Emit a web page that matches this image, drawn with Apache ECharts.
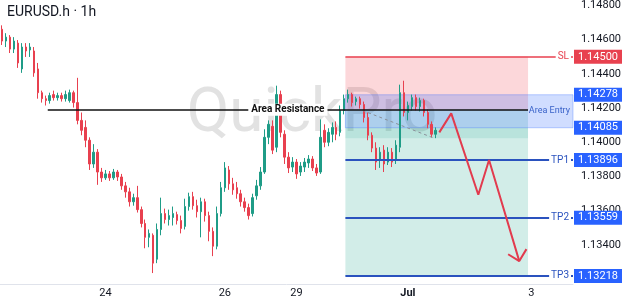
<!DOCTYPE html>
<html>
<head>
<meta charset="utf-8">
<title>EURUSD.h 1h</title>
<script src="https://cdn.jsdelivr.net/npm/echarts@6/dist/echarts.min.js"></script>
<style>
  html, body { margin: 0; padding: 0; background: #fff; }
  #chart { width: 624px; height: 305px; }
</style>
</head>
<body>
<div id="chart"></div>
<script>
// hourly candles
var opens = [
  1.14661, 1.14592, 1.14615, 1.14545, 1.14580, 1.14429, 1.14557, 1.14540, 1.14534, 1.14429,
  1.14290, 1.14255, 1.14244, 1.14279, 1.14261, 1.14273, 1.14255, 1.14244, 1.14290, 1.14232,
  1.14128, 1.14087, 1.14012, 1.13873, 1.13942, 1.13826, 1.13792, 1.13815, 1.13792, 1.13826,
  1.13797, 1.13745, 1.13710, 1.13652, 1.13676, 1.13606, 1.13525, 1.13444, 1.13456, 1.13316,
  1.13490, 1.13583, 1.13548, 1.13560, 1.13577, 1.13542, 1.13508, 1.13624, 1.13682, 1.13629,
  1.13594, 1.13652, 1.13571, 1.13479, 1.13392, 1.13583, 1.13734, 1.13838, 1.13757, 1.13734,
  1.13699, 1.13652, 1.13618, 1.13583, 1.13687, 1.13745, 1.13826, 1.14029, 1.14093, 1.13971,
  1.14279, 1.14047, 1.13913, 1.13855, 1.13884, 1.13826, 1.13855, 1.13879, 1.13902, 1.13850,
  1.13826, 1.14070, 1.14000, 1.14047, 1.14087, 1.14058, 1.14186, 1.14255, 1.14279, 1.14238,
  1.14255, 1.14221, 1.14145, 1.14041, 1.13966, 1.13896, 1.13954, 1.13884, 1.13942, 1.13896,
  1.13971, 1.14290, 1.14174, 1.14209, 1.14261, 1.14209, 1.14244, 1.14174, 1.14105, 1.14047
];
var closes = [
  1.14592, 1.14615, 1.14545, 1.14592, 1.14464, 1.14557, 1.14534, 1.14557, 1.14406, 1.14290,
  1.14255, 1.14244, 1.14273, 1.14261, 1.14273, 1.14255, 1.14279, 1.14290, 1.14232, 1.14128,
  1.14070, 1.14012, 1.13873, 1.13942, 1.13826, 1.13792, 1.13815, 1.13792, 1.13826, 1.13797,
  1.13745, 1.13710, 1.13652, 1.13676, 1.13606, 1.13525, 1.13444, 1.13467, 1.13293, 1.13490,
  1.13583, 1.13548, 1.13571, 1.13583, 1.13542, 1.13496, 1.13624, 1.13682, 1.13629, 1.13594,
  1.13652, 1.13571, 1.13479, 1.13392, 1.13583, 1.13734, 1.13850, 1.13757, 1.13722, 1.13699,
  1.13652, 1.13618, 1.13571, 1.13676, 1.13745, 1.13826, 1.14029, 1.14105, 1.13954, 1.14279,
  1.14058, 1.13913, 1.13850, 1.13884, 1.13815, 1.13861, 1.13884, 1.13902, 1.13850, 1.13820,
  1.14029, 1.14000, 1.14058, 1.14087, 1.14047, 1.14186, 1.14255, 1.14279, 1.14232, 1.14255,
  1.14221, 1.14145, 1.14041, 1.13966, 1.13884, 1.13942, 1.13873, 1.13942, 1.13884, 1.13983,
  1.14290, 1.14174, 1.14215, 1.14261, 1.14209, 1.14244, 1.14174, 1.14105, 1.14047, 1.14070
];
var lows = [
  1.14569, 1.14557, 1.14522, 1.14522, 1.14435, 1.14406, 1.14499, 1.14499, 1.14383, 1.14255,
  1.14232, 1.14215, 1.14226, 1.14244, 1.14244, 1.14238, 1.14238, 1.14232, 1.14203, 1.14105,
  1.14041, 1.13971, 1.13838, 1.13850, 1.13751, 1.13768, 1.13780, 1.13774, 1.13780, 1.13774,
  1.13722, 1.13676, 1.13624, 1.13629, 1.13589, 1.13502, 1.13380, 1.13386, 1.13235, 1.13293,
  1.13456, 1.13525, 1.13513, 1.13513, 1.13519, 1.13467, 1.13490, 1.13600, 1.13606, 1.13560,
  1.13444, 1.13536, 1.13421, 1.13334, 1.13374, 1.13566, 1.13710, 1.13722, 1.13693, 1.13670,
  1.13624, 1.13594, 1.13548, 1.13566, 1.13664, 1.13722, 1.13815, 1.13989, 1.13931, 1.13942,
  1.14029, 1.13873, 1.13820, 1.13826, 1.13786, 1.13803, 1.13826, 1.13850, 1.13832, 1.13803,
  1.13815, 1.13971, 1.13977, 1.14000, 1.14012, 1.14035, 1.14163, 1.14232, 1.14209, 1.14215,
  1.14197, 1.14116, 1.14012, 1.13942, 1.13838, 1.13850, 1.13826, 1.13867, 1.13855, 1.13873,
  1.13942, 1.14151, 1.14128, 1.14186, 1.14186, 1.14180, 1.14151, 1.14082, 1.14029, 1.14024
];
var highs = [
  1.14684, 1.14638, 1.14627, 1.14615, 1.14598, 1.14580, 1.14580, 1.14580, 1.14557, 1.14464,
  1.14302, 1.14273, 1.14290, 1.14302, 1.14290, 1.14290, 1.14302, 1.14308, 1.14302, 1.14377,
  1.14174, 1.14128, 1.14029, 1.13989, 1.13960, 1.13850, 1.13838, 1.13832, 1.13844, 1.13838,
  1.13815, 1.13768, 1.13734, 1.13699, 1.13745, 1.13624, 1.13548, 1.13490, 1.13467, 1.13525,
  1.13676, 1.13612, 1.13606, 1.13624, 1.13594, 1.13571, 1.13670, 1.13705, 1.13710, 1.13664,
  1.13676, 1.13670, 1.13594, 1.13502, 1.13624, 1.13768, 1.13884, 1.13861, 1.13792, 1.13768,
  1.13722, 1.13676, 1.13641, 1.13699, 1.13780, 1.13855, 1.14076, 1.14128, 1.14128, 1.14331,
  1.14302, 1.14070, 1.13942, 1.13913, 1.13902, 1.13884, 1.13908, 1.13925, 1.13919, 1.13873,
  1.14134, 1.14105, 1.14082, 1.14116, 1.14122, 1.14215, 1.14279, 1.14308, 1.14290, 1.14267,
  1.14267, 1.14238, 1.14174, 1.14058, 1.14000, 1.13971, 1.13983, 1.13971, 1.13966, 1.14012,
  1.14337, 1.14360, 1.14238, 1.14279, 1.14279, 1.14261, 1.14255, 1.14192, 1.14122, 1.14087
];

// time slots (candles + projected part) and day labels
var slotCount = 144;
var dayIndex = [26, 56, 74, 102, 133];
var dayText = ['24', '26', '29', 'Jul', '3'];
var priceTicks = [1.132, 1.134, 1.136, 1.138, 1.140, 1.142, 1.144, 1.146, 1.148];

// trade setup
var levelName = ['SL', 'TP1', 'TP2', 'TP3'];
var levelPrice = [1.14500, 1.13896, 1.13559, 1.13218];
var entryPrice = [1.14278, 1.14085];
var resistance = 1.14190;
var zoneFrom = 86.3, zoneTo = 132.2, resFrom = 11.5;

// projected path, arrow head, dashed trend line (slot, price)
var pathX = [109.9, 112.9, 119.7, 122.4, 130.0];
var pathY = [1.14058, 1.14169, 1.13693, 1.13896, 1.13305];
var headX = [127.2, 130.0, 131.8];
var headY = [1.13345, 1.13305, 1.13375];
var trendX = [90.6, 108.6];
var trendY = [1.14186, 1.14024];

var UP = '#1f9c87', DOWN = '#e8404f';
var SL_RED = '#e8414f', TP_BLUE = '#2a52be', TAG_BLUE = '#2962ff';
var lastSlot = slotCount - 0.5;

var cats = [];
for (var i = 0; i < slotCount; i++) cats.push(String(i));
var candles = opens.map(function (o, i) { return [o, closes[i], lows[i], highs[i]]; });
function pairs(xs, ys) { return xs.map(function (x, i) { return [x, ys[i]]; }); }

var areas = [
  [{ coord: [zoneFrom, levelPrice[0]], itemStyle: { color: 'rgba(242,54,69,0.2)' } }, { coord: [zoneTo, resistance] }],
  [{ coord: [zoneFrom, resistance], itemStyle: { color: 'rgba(8,153,129,0.18)' } }, { coord: [zoneTo, levelPrice[3]] }],
  [{ coord: [zoneFrom, entryPrice[1]], itemStyle: { color: 'rgba(8,153,129,0.12)' } }, { coord: [zoneTo, 1.14024] }],
  [{ coord: [zoneFrom, entryPrice[0]], itemStyle: { color: 'rgba(41,98,255,0.22)', borderColor: 'rgba(41,98,255,0.3)', borderWidth: 1 } },
   { coord: [lastSlot, entryPrice[1]] }]
];

var lines = levelName.map(function (n, k) {
  return [{ coord: [zoneFrom, levelPrice[k]], lineStyle: { color: k === 0 ? SL_RED : TP_BLUE, width: k === 0 ? 1.5 : 2, type: 'solid' } },
          { coord: [lastSlot, levelPrice[k]] }];
});
lines.push([{ coord: [resFrom, resistance], lineStyle: { color: '#111', width: 1.5, type: 'solid' } }, { coord: [zoneTo, resistance] }]);

var points = [];
levelName.forEach(function (n, k) {
  var c = k === 0 ? SL_RED : TAG_BLUE;
  points.push({ coord: [lastSlot, levelPrice[k]], label: { position: 'right', distance: 1, formatter: levelPrice[k].toFixed(5),
    backgroundColor: c, color: '#fff', padding: [2, 4, 1, 4], fontSize: 11 } });
  points.push({ coord: [lastSlot, levelPrice[k]], label: { position: 'left', distance: 2, formatter: n,
    backgroundColor: '#fff', color: k === 0 ? SL_RED : TP_BLUE, padding: [0, 2], fontSize: 10 } });
});
entryPrice.forEach(function (p) {
  points.push({ coord: [lastSlot, p], label: { position: 'right', distance: 1, formatter: p.toFixed(5),
    backgroundColor: TAG_BLUE, color: '#fff', padding: [2, 4, 1, 4], fontSize: 11 } });
});
points.push({ coord: [lastSlot, (entryPrice[0] + entryPrice[1]) / 2], label: { position: 'left', distance: 3,
  formatter: 'Area Entry', color: '#3a63c9', fontSize: 9 } });
points.push({ coord: [(resFrom + zoneTo) / 2, resistance], label: { position: 'inside', formatter: 'Area Resistance',
  backgroundColor: '#fff', color: '#111', fontWeight: 'bold', padding: [1, 3], fontSize: 10 } });

var chart = echarts.init(document.getElementById('chart'));
chart.setOption({
  animation: false,
  textStyle: { fontFamily: 'Roboto' },
  title: {
    text: 'EURUSD.h · 1h', left: 7, top: 5, padding: 0,
    textStyle: { fontSize: 14, fontWeight: 'normal', color: '#131722', fontFamily: 'Roboto' }
  },
  graphic: [{
    type: 'text', x: 312, y: 115, z: 0, silent: true,
    style: { text: 'QuickPro', font: '62px Roboto', fill: '#e2e2e2', align: 'center', verticalAlign: 'middle' }
  }],
  grid: { left: 0, right: 50, top: 0, bottom: 21 },
  xAxis: [{
    type: 'category', data: cats, boundaryGap: true,
    axisLine: { lineStyle: { color: '#e0e3eb' } },
    axisTick: { show: false },
    splitLine: { show: false },
    axisLabel: {
      interval: function (idx) { return dayIndex.indexOf(idx) >= 0; },
      margin: 4, fontSize: 11, color: '#131722',
      formatter: function (v, idx) {
        var k = dayIndex.indexOf(idx);
        if (k < 0) return '';
        return dayText[k] === 'Jul' ? '{b|Jul}' : dayText[k];
      },
      rich: { b: { fontWeight: 'bold', fontSize: 11, color: '#131722' } }
    }
  }, {
    type: 'value', min: -0.5, max: lastSlot, show: false
  }],
  yAxis: {
    type: 'value', position: 'right', min: 1.13171, max: 1.14812,
    axisLine: { show: false }, axisTick: { show: false }, splitLine: { show: false },
    axisLabel: {
      customValues: priceTicks, margin: 8, fontSize: 11, color: '#131722',
      formatter: function (v) { return v.toFixed(5); }
    }
  },
  series: [{
    type: 'candlestick', data: candles, barWidth: 2,
    itemStyle: { color: UP, color0: DOWN, borderColor: UP, borderColor0: DOWN, borderWidth: 1 }
  }, {
    type: 'line', xAxisIndex: 1, data: pairs(pathX, pathY), symbol: 'none', z: 6,
    lineStyle: { color: '#e23b4e', width: 2 },
    markArea: { silent: true, data: areas },
    markLine: { silent: true, symbol: ['none', 'none'], label: { show: false }, data: lines },
    markPoint: { silent: true, z: 10, symbol: 'rect', symbolSize: 0, itemStyle: { color: 'transparent' }, data: points }
  }, {
    type: 'line', xAxisIndex: 1, data: pairs(headX, headY), symbol: 'none', z: 6,
    lineStyle: { color: '#e23b4e', width: 2 }
  }, {
    type: 'line', xAxisIndex: 1, data: pairs(trendX, trendY), symbol: 'none', z: 4,
    lineStyle: { color: '#8a8f99', width: 1, type: [3, 3] }
  }]
});
</script>
</body>
</html>
